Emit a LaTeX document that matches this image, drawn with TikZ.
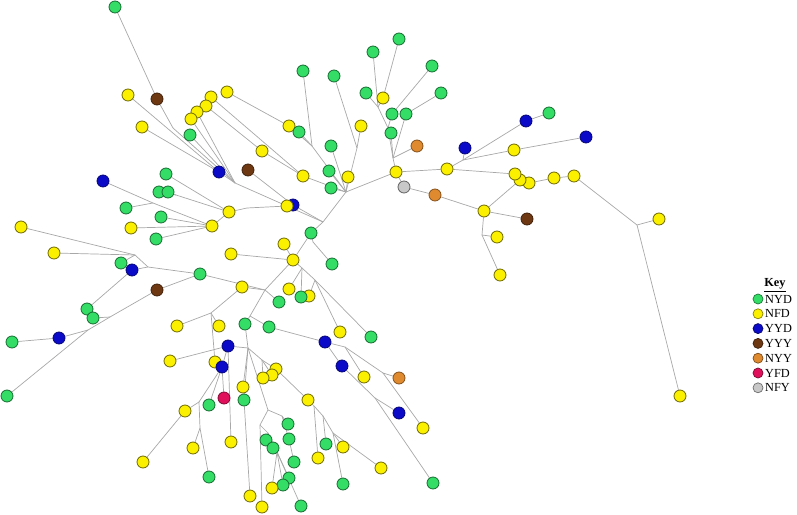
\documentclass[tikz,border=0pt]{standalone}
\usepackage{fontspec}
\setmainfont{Liberation Serif}
\usetikzlibrary{backgrounds}
\definecolor{nyd}{HTML}{33DD66}
\definecolor{nfd}{HTML}{FAF000}
\definecolor{yyd}{HTML}{0A0AC8}
\definecolor{yyy}{HTML}{6E3812}
\definecolor{nyy}{HTML}{E08A30}
\definecolor{yfd}{HTML}{E0105A}
\definecolor{nfy}{HTML}{C8C8C8}
\definecolor{linegray}{HTML}{A8A8A8}

\begin{document}
\begin{tikzpicture}[x=0.03cm, y=-0.03cm,
  dot/.style={circle, draw, line width=0.7pt, minimum size=0.36cm, inner sep=0pt},
  sNYD/.style={dot, fill=nyd, draw=nyd!50!black},
  sNFD/.style={dot, fill=nfd, draw=nfd!45!black},
  sYYD/.style={dot, fill=yyd, draw=yyd!60!black},
  sYYY/.style={dot, fill=yyy, draw=yyy!60!black},
  sNYY/.style={dot, fill=nyy, draw=nyy!60!black},
  sYFD/.style={dot, fill=yfd, draw=yfd!60!black},
  sNFY/.style={dot, fill=nfy, draw=nfy!50!black},
  link/.style={draw=linegray, line width=0.6pt},
  keydot/.style={circle, draw, line width=0.6pt, minimum size=0.3cm, inner sep=0pt},
  keytext/.style={anchor=west, inner sep=0pt, font=\fontsize{10.5}{12}\selectfont},
]
\useasboundingbox (0,0) rectangle (797,515);

% upper left
\node[sNYD] (g1) at (115,7) {};
\node[sNFD] (y1) at (128,95) {};
\node[sYYY] (br1) at (157,99) {};
\node[sNFD] (y2) at (142,127) {};
\node[sNFD] (y3) at (227,92) {};
\node[sNFD] (y4) at (211,97) {};
\node[sNFD] (y5) at (206,106) {};
\node[sNFD] (y6) at (197,112) {};
\node[sNFD] (y7) at (191,119) {};
\node[sNYD] (g2) at (190,135) {};
\node[sNFD] (y8) at (262,151) {};
\node[sYYY] (br2) at (248,170) {};
\node[sYYD] (b1) at (219,172) {};
\node[sYYD] (b2) at (103,181) {};
\node[sNYD] (g3) at (166,174) {};
\node[sNYD] (g4) at (159,192) {};
\node[sNYD] (g5) at (168,192) {};
\node[sNYD] (g6) at (126,208) {};
\node[sNYD] (g7) at (161,217) {};
\node[sNFD] (y9) at (229,212) {};
\node[sNFD] (y10) at (212,226) {};
\node[sNFD] (y11) at (131,228) {};
\node[sNYD] (g8) at (156,239) {};
\node[sNFD] (y12) at (21,227) {};
\node[sNFD] (y13) at (54,253) {};
\node[sNFD] (y14) at (231,254) {};

% upper middle
\node[sNYD] (g9) at (303,71) {};
\node[sNYD] (g10) at (334,76) {};
\node[sNYD] (g11) at (373,52) {};
\node[sNYD] (g12) at (399,39) {};
\node[sNYD] (g13) at (432,66) {};
\node[sNYD] (g14) at (441,93) {};
\node[sNYD] (g15) at (366,93) {};
\node[sNFD] (y17) at (383,98) {};
\node[sNYD] (g16) at (392,114) {};
\node[sNYD] (g17) at (406,114) {};
\node[sNYD] (g18) at (391,133) {};
\node[sNYY] (o1) at (417,146) {};
\node[sNFD] (y15) at (289,126) {};
\node[sNYD] (g19) at (299,132) {};
\node[sNFD] (y16) at (361,126) {};
\node[sNYD] (g20) at (331,146) {};
\node[sNFD] (y18) at (303,176) {};
\node[sNYD] (g21) at (329,171) {};
\node[sNYD] (g22) at (331,188) {};
\node[sNFD] (y19) at (348,177) {};
\node[sYYD] (b3) at (293,205) {};
\node[sNFD] (y25) at (287,206) {};
\node[sNYD] (g23) at (311,233) {};
\node[sNFD] (y26) at (284,244) {};

% right
\node[sNFD] (y20) at (396,172) {};
\node[sNFY] (s1) at (404,187) {};
\node[sNYY] (o2) at (435,195) {};
\node[sNFD] (y21) at (447,169) {};
\node[sYYD] (b4) at (465,148) {};
\node[sYYD] (b5) at (526,121) {};
\node[sNYD] (g24) at (549,113) {};
\node[sYYD] (b6) at (586,137) {};
\node[sNFD] (y22) at (514,150) {};
\node[sNFD] (y29) at (529,183) {};
\node[sNFD] (y28) at (520,180) {};
\node[sNFD] (y27) at (515,174) {};
\node[sNFD] (y30) at (554,178) {};
\node[sNFD] (y31) at (574,176) {};
\node[sNFD] (y32) at (659,219) {};
\node[sNFD] (y33) at (680,396) {};
\node[sNFD] (y23) at (484,211) {};
\node[sYYY] (br3) at (527,219) {};
\node[sNFD] (y24) at (497,237) {};
\node[sNFD] (y34) at (500,275) {};

% lower left
\node[sNYD] (g25) at (121,263) {};
\node[sYYD] (b7) at (132,270) {};
\node[sNYD] (g26) at (200,274) {};
\node[sYYY] (br4) at (157,290) {};
\node[sNFD] (y35) at (242,287) {};
\node[sNYD] (g27) at (87,309) {};
\node[sNYD] (g28) at (93,318) {};
\node[sYYD] (b8) at (59,338) {};
\node[sNYD] (g29) at (12,342) {};
\node[sNYD] (g30) at (7,396) {};
\node[sNFD] (y36) at (177,326) {};
\node[sNFD] (y37) at (219,326) {};
\node[sNYD] (g31) at (245,324) {};
\node[sYYD] (b9) at (228,346) {};
\node[sNFD] (y38) at (170,361) {};
\node[sNFD] (y39) at (215,362) {};
\node[sYYD] (b10) at (222,367) {};
\node[sNFD] (y40) at (243,387) {};
\node[sYFD] (r1) at (224,398) {};
\node[sNYD] (g32) at (244,400) {};
\node[sNYD] (g33) at (209,405) {};
\node[sNFD] (y41) at (185,411) {};
\node[sNFD] (y42) at (193,448) {};
\node[sNFD] (y43) at (143,462) {};
\node[sNYD] (g34) at (209,477) {};
\node[sNFD] (y44) at (231,442) {};
\node[sNFD] (y45) at (250,496) {};
\node[sNFD] (y46) at (262,507) {};

% lower middle
\node[sNFD] (y47) at (293,260) {};
\node[sNYD] (g35) at (332,264) {};
\node[sNFD] (y48) at (289,289) {};
\node[sNYD] (g36) at (279,302) {};
\node[sNFD] (y49) at (309,296) {};
\node[sNYD] (g37) at (301,297) {};
\node[sNFD] (y50) at (340,332) {};
\node[sNYD] (g38) at (371,337) {};
\node[sNYD] (g39) at (269,327) {};
\node[sYYD] (b11) at (325,342) {};
\node[sYYD] (b12) at (342,366) {};
\node[sNFD] (y51) at (364,377) {};
\node[sNYY] (o3) at (399,378) {};
\node[sYYD] (b13) at (399,413) {};
\node[sNFD] (y52) at (423,428) {};
\node[sNYD] (g40) at (433,483) {};
\node[sNFD] (y53) at (276,369) {};
\node[sNFD] (y54) at (272,375) {};
\node[sNFD] (y55) at (263,378) {};
\node[sNFD] (y56) at (308,400) {};
\node[sNYD] (g41) at (288,424) {};
\node[sNYD] (g43) at (289,439) {};
\node[sNYD] (g42) at (266,440) {};
\node[sNYD] (g44) at (273,448) {};
\node[sNYD] (g45) at (294,462) {};
\node[sNYD] (g46) at (326,444) {};
\node[sNFD] (y57) at (318,458) {};
\node[sNFD] (y58) at (343,447) {};
\node[sNFD] (y59) at (381,468) {};
\node[sNYD] (g47) at (343,484) {};
\node[sNYD] (g48) at (289,478) {};
\node[sNYD] (g49) at (283,485) {};
\node[sNFD] (y60) at (272,488) {};
\node[sNYD] (g50) at (301,506) {};

% branch points
\coordinate (jA) at (173,128);
\coordinate (jUL) at (235,183);
\coordinate (jT) at (323,222);
\coordinate (jH) at (346,192);
\coordinate (jC1) at (357,148);
\coordinate (jC2) at (312,146);
\coordinate (jD) at (247,208);
\coordinate (jE) at (176,195);
\coordinate (jF) at (153,203);
\coordinate (jG1) at (135,255);
\coordinate (jG) at (148,267);
\coordinate (jJ) at (110,317);
\coordinate (jI) at (88,330);
\coordinate (jT3) at (313,242);
\coordinate (jB1) at (302,268);
\coordinate (jB2) at (315,280);
\coordinate (jB4) at (265,290);
\coordinate (jB5) at (250,316);
\coordinate (jB7) at (211,313);
\coordinate (jB8) at (248,348);
\coordinate (jL) at (345,347);
\coordinate (jM) at (383,373);
\coordinate (jN) at (375,398);
\coordinate (jO) at (199,402);
\coordinate (jP) at (200,428);
\coordinate (jQ) at (262,360);
\coordinate (jR) at (268,410);
\coordinate (jV) at (282,416);
\coordinate (jS) at (260,425);
\coordinate (jK) at (268,433);
\coordinate (jU) at (277,452);
\coordinate (jW) at (314,406);
\coordinate (jX) at (323,416);
\coordinate (jY) at (333,433);
\coordinate (jU1) at (378,107);
\coordinate (jU2) at (388,128);
\coordinate (jU3) at (393,158);
\coordinate (jR2) at (463,160);
\coordinate (jR3) at (637,225);
\coordinate (jS2) at (482,235);

\begin{scope}[on background layer]
  \foreach \a/\b in {g1/br1, br1/jA, jA/jUL, y1/b1, y2/b1, b1/jUL, y6/jUL, y7/jUL,
      g2/jUL, jUL/jT, y5/y8, y8/y18, y4/y18, y18/jH, y3/y15, y15/jC2, g19/jC2,
      g9/jC2, jC2/jH, g20/jH, g21/jH, g22/jH, g10/jC1, y16/jC1, jC1/jH, y19/jH,
      br2/b3, b3/jT, y25/jD, jD/y9, g3/y9, g4/jE, g5/jE, jE/y9, b2/jF, g6/jF,
      jF/y10, g7/y10, y11/y10, g8/y10, y10/y9,
      y12/jG1, y13/jG1, g25/jG1, jG1/jG, b7/jG, jG/g26, b7/g27, br4/g26,
      br4/jJ, g28/jJ, jJ/jI, b8/jI, g29/b8, jI/g30,
      jH/jT, jT/g23, g23/jT3, jT3/g35, g23/y47, y26/y47, y14/y47, y47/jB1,
      jB1/g37, jB1/y48, jB1/jB2, jB2/y49, jB2/y50, jB2/g38,
      y47/jB4, g26/jB4, jB4/y35, jB4/g36, jB4/jB5, y35/jB7, jB7/y36, jB7/y37,
      jB7/y39, jB5/g31, jB5/g39, g39/b11,
      b11/jL, jL/y51, jL/jM, jM/o3, jM/y52, b11/b12, b12/jN, jN/b13, jN/g40,
      g31/jB8, y38/b9, b9/jB8, b9/b10, b10/r1, b9/y44,
      b10/g33, b10/jO, jO/y41, y41/y43, jO/jP, jP/y42, jP/g34,
      jB8/y40, jB8/g32, g32/y45, jB8/jQ, jQ/y55, jQ/y54, jQ/y53, y53/y56,
      y56/jW, jW/y57, jW/jX, jX/g46, jX/jY, jY/y58, jY/y59, jY/g47,
      jB8/jR, jR/jV, jV/g41, jV/g43, g43/g45, jR/jS, jS/y46, jS/jK, jK/g42,
      jK/g44, jK/jU, jU/y60, jU/g49, jU/g48, jU/g50,
      jH/y20, jU3/y20, jU2/jU3, jU1/jU2, g11/jU1, g15/jU1, g12/y17, y17/jU1,
      g13/g16, g16/jU2, g14/g17, g17/jU3, g18/jU3, o1/jU3,
      y20/y21, y21/y27, y21/jR2, jR2/b4, jR2/b5, jR2/y22, y22/b6, b5/g24,
      y27/y29, y29/y30, y30/y31, y31/jR3, jR3/y32, jR3/y33, y28/y23,
      y20/s1, s1/o2, o2/y23, y23/br3, y23/jS2, jS2/y24, jS2/y34}
    \draw[link] (\a) -- (\b);
\end{scope}

% key
\node[font=\fontsize{10.5}{12}\selectfont\bfseries] (key) at (775,285) {\underline{Key}};
\foreach \lab/\col [count=\i] in {NYD/nyd, NFD/nfd, YYD/yyd, YYY/yyy, NYY/nyy, YFD/yfd, NFY/nfy} {
  \node[keydot, fill=\col, draw=\col!55!black] (k\i) at (758,{284.2+\i*14.8}) {};
  \node[keytext] (kt\i) at (765,{284.2+\i*14.8}) {\lab};
}
\end{tikzpicture}
\end{document}
